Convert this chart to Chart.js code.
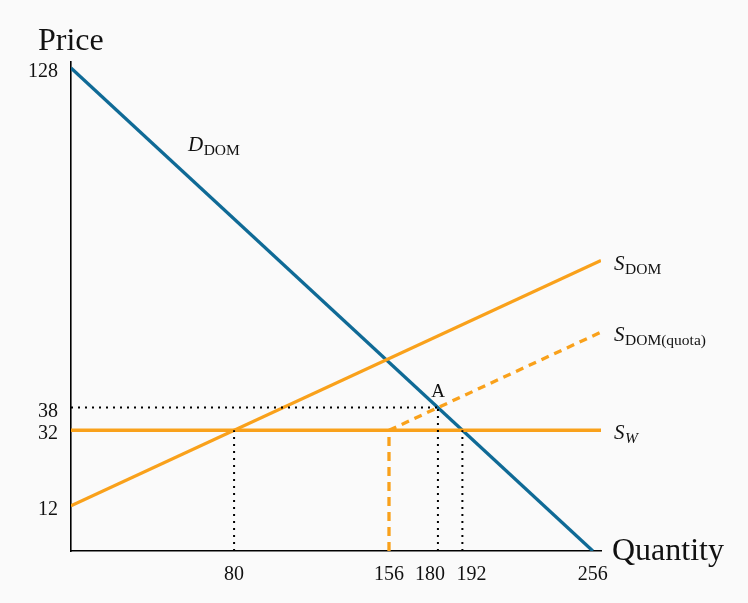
<!DOCTYPE html>
<html><head><meta charset="utf-8">
<script src="https://cdn.jsdelivr.net/npm/chart.js@4/dist/chart.umd.min.js"></script>
<style>html,body{margin:0;padding:0;background:#fafafa}#wrap{width:748px;height:603px;position:relative}</style>
</head><body><div id="wrap"><canvas id="c" width="748" height="603"></canvas></div>
<script>
const demandQ = [0, 256];
const demandP = [128, 0];
const supplyQ = [0, 260];
const supplyP = [12, 77];
const quotaQ = [156, 260];
const quotaP = [32, 58];
const worldQ = [0, 260];
const worldP = [32, 32];
const xTicks = [80, 156, 180, 192, 256];
const yTicks = [12, 32, 38, 128];
const guideH = {p: 38, q0: 0, q1: 180};
const guideV = [{q: 80, p: 32}, {q: 180, p: 38}, {q: 192, p: 32}];
const quotaV = {q: 156, p: 32};

const BLUE = '#0f6a96', ORANGE = '#f9a11b';
const pts = (xs, ys) => xs.map((x, i) => ({x, y: ys[i]}));
const line = (data, color, extra) => Object.assign({data, borderColor: color, borderWidth: 3.3, showLine: true, pointRadius: 0, fill: false, tension: 0}, extra || {});

const datasets = [
  line(pts([guideH.q0, guideH.q1], [guideH.p, guideH.p]), '#000', {borderWidth: 2, borderDash: [2, 5]}),
  ...guideV.map(g => line(pts([g.q, g.q], [0, g.p]), '#000', {borderWidth: 2, borderDash: [2, 5]})),
  line(pts([quotaV.q, quotaV.q], [0, quotaV.p]), ORANGE, {borderDash: [9, 6]}),
  line(pts(quotaQ, quotaP), ORANGE, {borderDash: [8, 6]}),
  line(pts(worldQ, worldP), ORANGE),
  line(pts(supplyQ, supplyP), ORANGE),
  line(pts(demandQ, demandP), BLUE),
];

const SERIF = '"Liberation Serif", "DejaVu Serif", serif';
// small horizontal nudges so crowded x tick labels do not collide
const xLabelNudge = {180: -8, 192: 9};

const labels = {
  id: 'labels',
  afterDraw(chart) {
    const ctx = chart.ctx;
    const xs = chart.scales.x, ys = chart.scales.y;
    ctx.save();
    ctx.fillStyle = '#111';
    ctx.textBaseline = 'alphabetic';
    ctx.textAlign = 'left';
    const sub = (x, y, main, s, italicSub) => {
      ctx.font = 'italic 21px ' + SERIF;
      ctx.fillText(main, x, y);
      const w = ctx.measureText(main).width;
      ctx.font = (italicSub ? 'italic ' : '') + '15.5px ' + SERIF;
      ctx.fillText(s, x + w + 0.5, y + 4);
    };
    ctx.font = '32px ' + SERIF;
    ctx.fillText('Price', 38, 50);
    ctx.fillText('Quantity', 612, 560);
    sub(188, 151, 'D', 'DOM');
    sub(614, 270, 'S', 'DOM');
    sub(614, 341, 'S', 'DOM(quota)');
    sub(614, 439, 'S', 'W', true);
    ctx.font = '19px ' + SERIF;
    ctx.textAlign = 'center';
    ctx.fillText('A', 438, 397);
    // x tick labels
    ctx.font = '20px ' + SERIF;
    xTicks.forEach(v => {
      ctx.fillText(String(v), xs.getPixelForValue(v) + (xLabelNudge[v] || 0), 580);
    });
    // y tick labels
    ctx.textAlign = 'right';
    yTicks.forEach(v => {
      ctx.fillText(String(v), 58, ys.getPixelForValue(v) + 9);
    });
    ctx.restore();
  }
};

new Chart(document.getElementById('c'), {
  type: 'scatter',
  data: {datasets},
  options: {
    responsive: false,
    animation: false,
    layout: {padding: {left: 0, right: 147, top: 62, bottom: 0}},
    plugins: {legend: {display: false}, tooltip: {enabled: false}},
    scales: {
      x: {
        type: 'linear', min: 0, max: 260,
        grid: {display: false, drawTicks: false},
        border: {display: true, color: '#000', width: 1.6},
        afterBuildTicks: s => { s.ticks = xTicks.map(v => ({value: v})); },
        afterFit: s => { s.height = 52; },
        ticks: {display: false}
      },
      y: {
        type: 'linear', min: 0, max: 129.6,
        grid: {display: false, drawTicks: false},
        border: {display: true, color: '#000', width: 1.6},
        afterBuildTicks: s => { s.ticks = yTicks.map(v => ({value: v})); },
        afterFit: s => { s.width = 71; },
        ticks: {display: false}
      }
    }
  },
  plugins: [labels]
});
</script></body></html>
